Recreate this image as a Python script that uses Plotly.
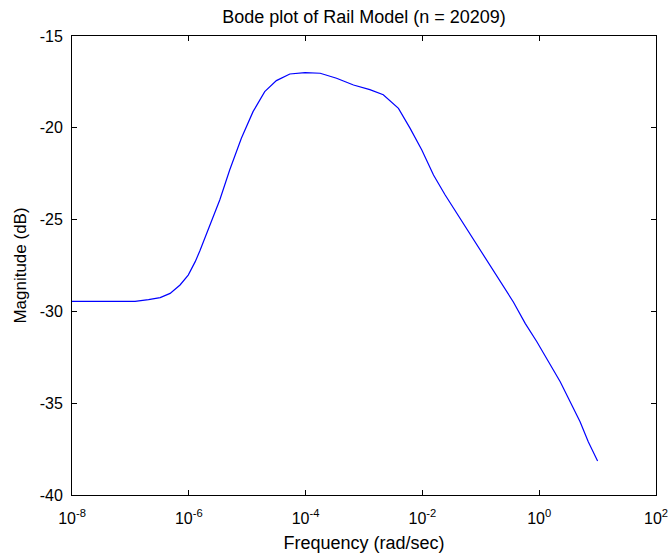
import plotly.graph_objects as go

# Frequency exponents (log10 of rad/sec) and magnitude in dB
log_freq = [-8.0, -6.92, -6.69, -6.49, -6.32, -6.15, -6.01, -5.89, -5.81, -5.69,
            -5.47, -5.30, -5.10, -4.90, -4.70, -4.50, -4.27, -4.01, -3.75, -3.47,
            -3.18, -2.90, -2.67, -2.41, -2.21, -2.01, -1.81, -1.61, -1.41, -1.21,
            -1.01, -0.81, -0.61, -0.44, -0.24, -0.04, 0.16, 0.36, 0.53, 0.70,
            0.84, 1.0]
magnitude_db = [-29.45, -29.45, -29.36, -29.25, -29.02, -28.56, -28.02, -27.29, -26.70, -25.75,
                -23.93, -22.30, -20.57, -19.12, -18.03, -17.43, -17.07, -17.00, -17.03, -17.30,
                -17.67, -17.92, -18.20, -18.94, -20.03, -21.21, -22.57, -23.66, -24.66, -25.66,
                -26.66, -27.65, -28.60, -29.50, -30.65, -31.65, -32.74, -33.83, -34.92, -36.01,
                -37.10, -38.15]

x_tick_exps = [-8, -6, -4, -2, 0, 2]
y_ticks = [-40, -35, -30, -25, -20, -15]

freq = [10 ** e for e in log_freq]

fig = go.Figure()
fig.add_trace(go.Scatter(x=freq, y=magnitude_db, mode="lines",
                         line=dict(color="#0000ff", width=1.2),
                         showlegend=False, hoverinfo="x+y"))

font_family = "Liberation Sans, Arial, sans-serif"

fig.update_layout(
    width=670, height=557,
    margin=dict(l=72, r=14, t=36, b=62),
    paper_bgcolor="white", plot_bgcolor="white",
    font=dict(family=font_family, size=16, color="black"),
    title=dict(text="Bode plot of Rail Model (n = 20209)",
               x=0.5, xref="paper", xanchor="center",
               y=1 - 17 / 557, yref="container", yanchor="middle",
               font=dict(size=18)),
)

fig.update_xaxes(
    type="log", range=[-8, 2],
    tickmode="array",
    tickvals=[10 ** e for e in x_tick_exps],
    ticktext=["10<sup>%d</sup>" % e for e in x_tick_exps],
    ticks="inside", ticklen=5, tickcolor="black", tickwidth=1,
    showline=True, linecolor="black", linewidth=1, mirror="ticks",
    showgrid=False, zeroline=False, automargin=False,
    tickfont=dict(size=16), ticklabelstandoff=9,
    title=dict(text="Frequency (rad/sec)", font=dict(size=18), standoff=10),
)
fig.update_yaxes(
    range=[-40, -15],
    tickmode="array", tickvals=y_ticks, ticktext=[str(v) for v in y_ticks],
    ticks="inside", ticklen=5, tickcolor="black", tickwidth=1,
    showline=True, linecolor="black", linewidth=1, mirror="ticks",
    showgrid=False, zeroline=False, automargin=False,
    tickfont=dict(size=16), ticklabelstandoff=5,
    title=dict(text="Magnitude (dB)", font=dict(size=17), standoff=8),
)

fig.write_html(
    "out.html",
    config={"displayModeBar": False},
    post_script="document.body.style.margin='0';document.body.style.overflow='hidden';",
)
